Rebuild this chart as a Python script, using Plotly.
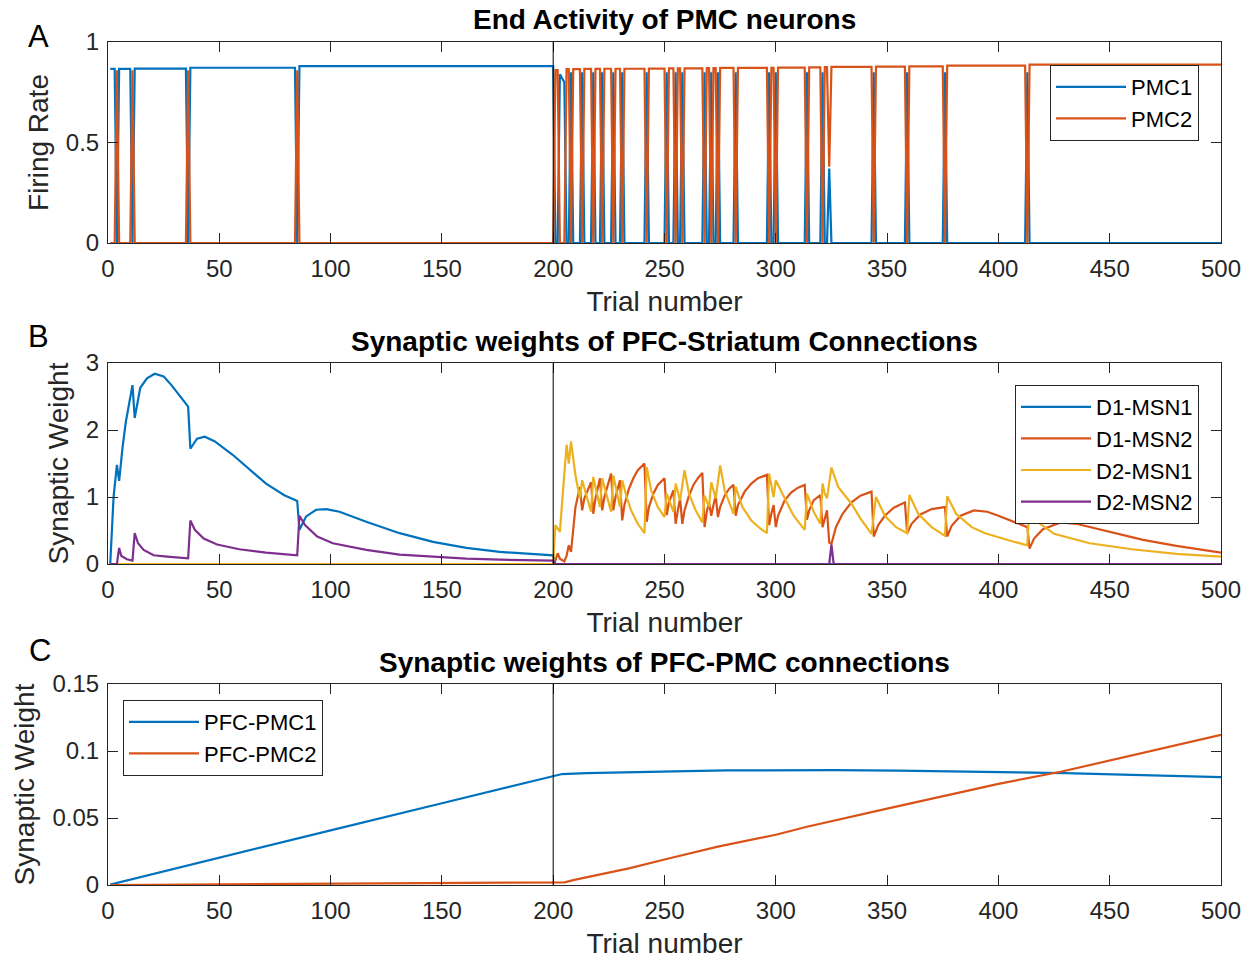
import plotly.graph_objects as go
from plotly.subplots import make_subplots

# ---------------- Panel A: end activity of PMC neurons ----------------
# runs of trials where a neuron ends high: (first trial, last trial, firing rate)
pmc1_runs = [
    (1, 3, 0.866), (5, 10, 0.866), (12, 35, 0.868), (37, 84, 0.872), (86, 200, 0.880),
    (203, 203, 0.840), (204, 204, 0.820), (205, 205, 0.800),
    (208, 208, 0.85), (213, 213, 0.85), (218, 218, 0.85), (222, 222, 0.85),
    (227, 227, 0.85), (231, 231, 0.85), (242, 242, 0.85), (251, 251, 0.85),
    (255, 255, 0.85), (258, 258, 0.85), (268, 268, 0.85), (271, 271, 0.85),
    (274, 274, 0.85), (282, 282, 0.85), (297, 297, 0.85), (300, 300, 0.85),
    (314, 314, 0.85), (321, 321, 0.85), (324, 324, 0.37), (344, 344, 0.85),
    (359, 359, 0.85), (376, 376, 0.85), (413, 413, 0.85),
]
pmc2_runs = [
    (4, 4, 0.86), (11, 11, 0.86), (36, 36, 0.86), (85, 85, 0.86),
    (201, 202, 0.860), (206, 207, 0.865), (209, 212, 0.865), (214, 217, 0.866),
    (219, 221, 0.866), (223, 226, 0.867), (228, 230, 0.867), (232, 241, 0.867),
    (243, 250, 0.868), (252, 254, 0.869), (256, 257, 0.869), (259, 267, 0.869),
    (269, 270, 0.870), (272, 273, 0.870), (275, 281, 0.871), (283, 296, 0.871),
    (298, 299, 0.872), (301, 313, 0.873), (315, 320, 0.874), (322, 323, 0.875),
    (324, 324, 0.38), (325, 343, 0.876), (345, 358, 0.877), (360, 375, 0.879),
    (377, 412, 0.882), (414, 500, 0.887),
]
n_trials = 500

# ---------------- Panel B: PFC-Striatum weights (curve vertices) ----------------
d1msn1_t = [1, 2.5, 4, 5, 6.5, 8, 11, 12, 14.5, 17.5, 21, 25, 28.5, 32.5, 36, 37, 40, 43.5, 48, 56,
            64, 71, 79, 85, 86, 89, 93.5, 98, 104, 116, 131, 146, 161, 176, 200, 201, 500]
d1msn1_w = [0, 1.0, 1.48, 1.24, 1.73, 2.12, 2.67, 2.18, 2.63, 2.77, 2.84, 2.80, 2.67, 2.50, 2.35, 1.72,
            1.87, 1.90, 1.83, 1.63, 1.40, 1.20, 1.03, 0.94, 0.51, 0.71, 0.81, 0.82, 0.78, 0.63, 0.46,
            0.33, 0.24, 0.18, 0.13, 0.0, 0.0]

d2msn2_t = [1, 4, 5, 6, 8.5, 11, 12, 13.5, 16, 20.5, 26.5, 36, 37, 39, 43, 49, 59, 71, 85, 86, 88.5,
            94, 101, 116, 131, 146, 161, 176, 200, 201, 324, 325, 326, 500]
d2msn2_w = [0, 0, 0.24, 0.12, 0.07, 0.05, 0.46, 0.31, 0.21, 0.13, 0.11, 0.085, 0.65, 0.51, 0.38, 0.29,
            0.22, 0.17, 0.13, 0.72, 0.58, 0.41, 0.31, 0.21, 0.14, 0.11, 0.08, 0.065, 0.05, 0, 0, 0.29, 0, 0]

d1msn2_t = [1, 200, 201, 202, 203, 205, 206, 207, 208, 209, 210, 212, 213, 214, 217, 218, 219, 221,
            222, 223, 226, 227, 228, 230, 231, 232, 234, 236, 238, 241, 242, 243, 245, 247, 250, 251,
            252, 254, 255, 256, 257, 258, 259, 261, 263, 265, 267, 268, 269, 270, 271, 272, 273, 274,
            275, 277, 279, 281, 282, 283, 286, 289, 292, 296, 297, 298, 299, 300, 301, 304, 307, 310,
            313, 314, 315, 317, 320, 321, 322, 323, 324, 325, 327, 330, 334, 338, 343, 344, 346, 349,
            353, 358, 359, 361, 365, 370, 376, 377, 379, 383, 389, 395, 400, 406, 413, 414, 416, 420,
            428, 435, 450, 465, 480, 500]
d1msn2_w = [0, 0, 0.05, 0.16, 0.08, 0.04, 0.12, 0.28, 0.18, 0.55, 0.85, 1.15, 0.80, 0.98, 1.22, 0.75,
            0.98, 1.28, 0.80, 1.0, 1.35, 0.80, 1.0, 1.25, 0.65, 0.88, 1.12, 1.28, 1.40, 1.50, 0.63,
            0.85, 1.05, 1.18, 1.28, 0.73, 0.92, 1.10, 0.60, 0.80, 0.98, 0.60, 0.80, 1.02, 1.18, 1.28,
            1.36, 0.55, 0.78, 0.92, 0.72, 0.88, 1.02, 0.70, 0.85, 1.02, 1.12, 1.18, 0.72, 0.88, 1.08,
            1.20, 1.28, 1.33, 0.58, 0.75, 0.88, 0.55, 0.72, 0.95, 1.07, 1.14, 1.18, 0.66, 0.80, 0.95,
            1.03, 0.55, 0.70, 0.80, 0.32, 0.30, 0.55, 0.75, 0.92, 1.02, 1.08, 0.41, 0.58, 0.72, 0.84,
            0.92, 0.46, 0.60, 0.74, 0.82, 0.85, 0.41, 0.57, 0.72, 0.80, 0.78, 0.72, 0.64, 0.55, 0.23,
            0.38, 0.52, 0.62, 0.60, 0.48, 0.36, 0.27, 0.17]

d2msn1_t = [1, 200, 201, 202, 203, 206, 207, 208, 209, 210, 211, 212, 213, 217, 218, 221, 222, 226,
            227, 230, 231, 233, 235, 238, 241, 242, 244, 247, 250, 251, 254, 255, 257, 259, 261, 264,
            267, 268, 270, 271, 273, 275, 277, 281, 282, 285, 289, 293, 296, 297, 299, 300, 304, 308,
            313, 314, 317, 320, 321, 322, 323, 325, 328, 334, 338, 343, 345, 349, 354, 359, 360, 364,
            370, 376, 377, 381, 388, 394, 405, 413, 414, 418, 425, 441, 460, 480, 500]
d2msn1_w = [0, 0, 0.58, 0.52, 0.48, 1.78, 1.50, 1.83, 1.55, 1.32, 1.15, 0.98, 1.25, 0.78, 1.30, 0.85,
            1.28, 0.78, 1.32, 0.85, 1.25, 1.0, 0.80, 0.60, 0.46, 1.45, 1.10, 0.85, 0.70, 1.05, 0.78,
            1.20, 0.95, 1.40, 1.05, 0.80, 0.62, 1.02, 0.85, 1.22, 0.98, 1.47, 1.10, 0.75, 1.15, 0.85,
            0.65, 0.53, 0.46, 1.35, 1.0, 1.25, 0.98, 0.72, 0.51, 1.05, 0.78, 0.60, 1.20, 1.05, 0.98,
            1.44, 1.15, 0.90, 0.68, 0.45, 1.00, 0.72, 0.55, 0.46, 1.03, 0.75, 0.55, 0.42, 1.01, 0.75,
            0.55, 0.46, 0.35, 0.28, 0.98, 0.62, 0.45, 0.31, 0.22, 0.15, 0.11]

# ---------------- Panel C: PFC-PMC weights (curve vertices) ----------------
pfc_pmc1_t = [1, 50, 100, 150, 200, 204, 215, 234, 260, 278, 300, 326, 355, 380, 415, 430, 460, 500]
pfc_pmc1_w = [0.0003, 0.0205, 0.0408, 0.061, 0.081, 0.0828, 0.0835, 0.0843, 0.0850, 0.0855, 0.0857,
              0.0857, 0.0853, 0.0848, 0.0842, 0.0835, 0.0822, 0.0805]
pfc_pmc2_t = [1, 50, 100, 150, 200, 205, 210, 234, 250, 274, 300, 314, 350, 400, 428, 450, 500]
pfc_pmc2_w = [0, 0.0005, 0.0009, 0.0012, 0.0015, 0.002, 0.004, 0.0124, 0.019, 0.0286, 0.0375, 0.0435,
              0.057, 0.0755, 0.0845, 0.093, 0.112]


def expand(runs):
    vals = [0.0] * n_trials
    for a, b, lev in runs:
        for t in range(a, b + 1):
            vals[t - 1] = lev
    return vals


trials = list(range(1, n_trials + 1))
blue, orange, yellow, purple = '#0072BD', '#D95319', '#EDB120', '#7E2F8E'
FONT = 'Liberation Sans, Arial, Helvetica, sans-serif'
AX = '#262626'
W, H = 1250, 959
LW = 2.2

fig = make_subplots(rows=3, cols=1)

fig.add_trace(go.Scatter(x=trials, y=expand(pmc1_runs), mode='lines', name='PMC1',
                         line=dict(color=blue, width=LW), legend='legend'), 1, 1)
fig.add_trace(go.Scatter(x=trials, y=expand(pmc2_runs), mode='lines', name='PMC2',
                         line=dict(color=orange, width=LW), legend='legend'), 1, 1)

for t, w, nm, c in [(d1msn1_t, d1msn1_w, 'D1-MSN1', blue), (d1msn2_t, d1msn2_w, 'D1-MSN2', orange),
                    (d2msn1_t, d2msn1_w, 'D2-MSN1', yellow), (d2msn2_t, d2msn2_w, 'D2-MSN2', purple)]:
    fig.add_trace(go.Scatter(x=t, y=w, mode='lines', name=nm, line=dict(color=c, width=LW),
                             legend='legend2'), 2, 1)

fig.add_trace(go.Scatter(x=pfc_pmc1_t, y=pfc_pmc1_w, mode='lines', name='PFC-PMC1',
                         line=dict(color=blue, width=LW), legend='legend3'), 3, 1)
fig.add_trace(go.Scatter(x=pfc_pmc2_t, y=pfc_pmc2_w, mode='lines', name='PFC-PMC2',
                         line=dict(color=orange, width=LW), legend='legend3'), 3, 1)

# axes boxes in pixel positions of the original figure
x_dom = [108 / W, 1221 / W]
y_doms = [(42, 243), (363, 564), (684, 885)]
y_ranges = [[0, 1], [0, 3], [0, 0.15]]
y_ticks = [([0, 0.5, 1], ['0', '0.5', '1']),
           ([0, 1, 2, 3], ['0', '1', '2', '3']),
           ([0, 0.05, 0.1, 0.15], ['0', '0.05', '0.1', '0.15'])]
y_titles = ['Firing Rate', 'Synaptic Weight', 'Synaptic Weight']
titles = ['End Activity of PMC neurons', 'Synaptic weights of PFC-Striatum Connections',
          'Synaptic weights of PFC-PMC connections']
letters = [('A', 38, 37), ('B', 38, 336), ('C', 40, 650)]

for i in range(3):
    top, bot = y_doms[i]
    fig.update_xaxes(row=i + 1, col=1, domain=x_dom, range=[0, 500], automargin=False,
                     tickvals=list(range(0, 501, 50)), ticks='inside', ticklen=10,
                     showline=True, linecolor=AX, linewidth=1, mirror='ticks', tickcolor=AX,
                     showgrid=False, zeroline=False, ticklabelstandoff=4,
                     tickfont=dict(family=FONT, size=24, color=AX),
                     title=dict(text='Trial number', font=dict(family=FONT, size=28, color=AX), standoff=10))
    fig.update_yaxes(row=i + 1, col=1, domain=[1 - bot / H, 1 - top / H], range=y_ranges[i],
                     automargin=False,
                     tickvals=y_ticks[i][0], ticktext=y_ticks[i][1], ticks='inside', ticklen=10,
                     showline=True, linecolor=AX, linewidth=1, mirror='ticks', tickcolor=AX,
                     showgrid=False, zeroline=False, ticklabelstandoff=3,
                     tickfont=dict(family=FONT, size=24, color=AX),
                     title=dict(text=y_titles[i], font=dict(family=FONT, size=28, color=AX), standoff=9))
    fig.add_vline(x=200, line_color='black', line_width=1, row=i + 1, col=1)
    fig.add_annotation(text='<b>' + titles[i] + '</b>', xref='paper', yref='paper',
                       x=664.5 / W, y=1 - (top - 22) / H, xanchor='center', yanchor='middle',
                       showarrow=False, font=dict(family=FONT, size=28, color='black'))
    txt, lx, ly = letters[i]
    fig.add_annotation(text=txt, xref='paper', yref='paper',
                       x=lx / W, y=1 - ly / H, xanchor='center', yanchor='middle',
                       showarrow=False, font=dict(family=FONT, size=31, color='black'))

legend_style = dict(bgcolor='white', bordercolor=AX, borderwidth=1,
                    font=dict(family=FONT, size=22, color='black'), itemwidth=70,
                    tracegroupgap=0)
fig.update_layout(
    width=W, height=H, margin=dict(l=0, r=0, t=0, b=0),
    plot_bgcolor='white', paper_bgcolor='white', showlegend=True,
    legend=dict(x=1199 / W, y=1 - 65 / H, xanchor='right', yanchor='top', **legend_style),
    legend2=dict(x=1199 / W, y=1 - 385 / H, xanchor='right', yanchor='top', **legend_style),
    legend3=dict(x=123 / W, y=1 - 700 / H, xanchor='left', yanchor='top', **legend_style),
)

# remove the default page margin so the figure sits at the window's top-left corner
fig.write_html('out.html', config={'displayModeBar': False},
               post_script="document.body.style.margin='0';")
